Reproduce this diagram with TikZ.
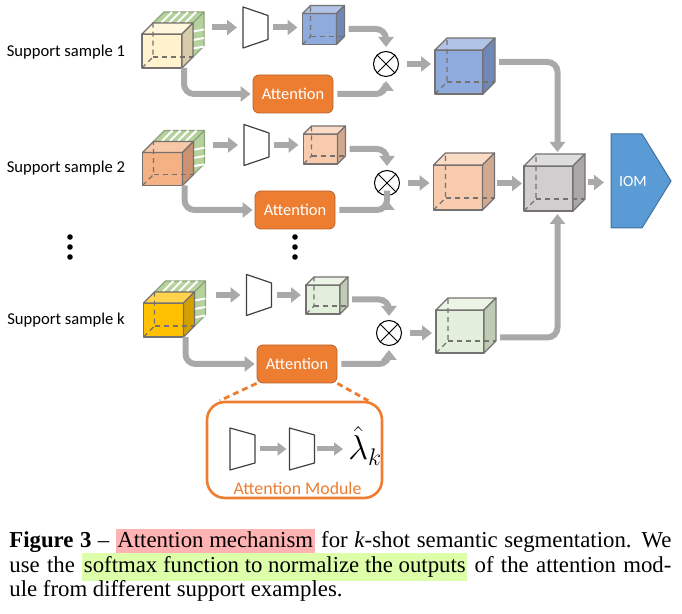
\documentclass[tikz,border=0pt]{standalone}
\usepackage{fontspec}
\setmainfont{Liberation Serif}
\newfontfamily\diagfont{Carlito}
\usepackage{tikz}
\usetikzlibrary{
    arrows.meta,
    calc,
    positioning,
    shapes,
}
\definecolor{flowgray}{HTML}{A9A9A9}
\definecolor{edgegray}{HTML}{767171}
\definecolor{encgray}{HTML}{404040}
\definecolor{attorange}{HTML}{ED7D31}
\definecolor{attborder}{HTML}{B9622A}
\definecolor{iomblue}{HTML}{5B9BD5}
\definecolor{iomborder}{HTML}{41719C}
\definecolor{slicegreen}{HTML}{B5D19C}
\definecolor{sliceedge}{HTML}{8FA57E}
\definecolor{beige}{HTML}{FFF2CC}
\definecolor{beigeside}{HTML}{D8CCA8}
\definecolor{salmon}{HTML}{F4B183}
\definecolor{salmonside}{HTML}{CB9170}
\definecolor{gold}{HTML}{FFC000}
\definecolor{goldside}{HTML}{D3A000}
\definecolor{blueft}{HTML}{8FAADC}
\definecolor{blueside}{HTML}{7088B8}
\definecolor{peach}{HTML}{F8CBAD}
\definecolor{peachside}{HTML}{D0A98F}
\definecolor{mint}{HTML}{E2EFDA}
\definecolor{mintside}{HTML}{BECBB5}
\definecolor{greyft}{HTML}{D0CECE}
\definecolor{greyside}{HTML}{A9A7A7}
\definecolor{hlpink}{HTML}{FFB3B3}
\definecolor{hlgreen}{HTML}{DDFFAA}

\tikzstyle{face}=[draw=edgegray,line width=0.6pt,line join=round]
\tikzstyle{cubefront}=[face,rectangle,inner sep=0pt,outer sep=0pt]
\tikzstyle{hidden}=[draw=edgegray,line width=0.6pt,dash pattern=on 2.5pt off 2pt]
\tikzstyle{flow}=[draw=flowgray,line width=3pt,rounded corners=5pt,-{Triangle[width=7.5pt,length=5pt]}]
\tikzstyle{thinflow}=[draw=flowgray,line width=2.5pt,-{Triangle[width=6.5pt,length=4.5pt]}]
\tikzstyle{encbox}=[rectangle,inner sep=0pt,outer sep=0pt]
\tikzstyle{encline}=[draw=encgray,line width=0.6pt,line join=round,fill=white]
\tikzstyle{att}=[rectangle,rounded corners=3pt,fill=attorange,draw=attborder,line width=0.4pt,
    minimum width=40pt,minimum height=19pt,inner sep=0pt,text=white,font=\diagfont\fontsize{8.2}{10}\selectfont]
\tikzstyle{sample}=[font=\diagfont\fontsize{8.3}{10}\selectfont]
\tikzstyle{otimes}=[circle,draw=black,line width=0.5pt,minimum size=12.5pt,inner sep=0pt,fill=white]
\tikzstyle{module}=[rectangle,rounded corners=9pt,draw=attorange,line width=1.3pt,
    minimum width=87.5pt,minimum height=48pt]
\tikzstyle{modlink}=[draw=attorange,line width=1.4pt,dash pattern=on 3pt off 2pt]

% name, centre, width, height, depth, front, side (sizes in px)
\newcommand{\fcube}[7]{%
  \node[cubefront,fill=#6,minimum width=#3*0.5pt,minimum height=#4*0.5pt] (#1) at #2 {};
  \filldraw[face,fill=#6!70!white] (#1.north west) -- ++(#5,-#5) -- ++(#3,0) -- (#1.north east) -- cycle;
  \filldraw[face,fill=#7] (#1.north east) -- ++(#5,-#5) -- ++(0,#4) -- (#1.south east) -- cycle;
  \draw[hidden] (#1.south west) -- ++(#5,-#5) coordinate (#1-bk) -- ++(0,-#4);
  \draw[hidden] (#1-bk) -- ++(#3,0);
}
% name, centre, width, height, depth
\newcommand{\slices}[5]{%
  \node[cubefront,draw=sliceedge,fill=slicegreen,minimum width=#3*0.5pt,minimum height=#4*0.5pt] (#1) at #2 {};
  \filldraw[face,draw=sliceedge,fill=slicegreen] (#1.north west) -- ++(#5,-#5) -- ++(#3,0) -- (#1.north east) -- cycle;
  \filldraw[face,draw=sliceedge,fill=slicegreen] (#1.north east) -- ++(#5,-#5) -- ++(0,#4) -- (#1.south east) -- cycle;
  \foreach \f in {0.2,0.4,0.6,0.8}
    \draw[white,line width=1pt] ($(#1.north west)!\f!(#1.north east)$) -- ++(#5,-#5);
  \foreach \f in {0.25,0.5,0.75}
    \draw[white,line width=1pt] ($(#1.north east)!\f!(#1.south east)$) -- ++(#5,-2);
}
% name, centre, width, height, inset
\newcommand{\encoder}[5]{%
  \node[encbox,minimum width=#3*0.5pt,minimum height=#4*0.5pt] (#1) at #2 {};
  \draw[encline] (#1.north west) -- (#1.south west) -- ([yshift=#5*0.5pt]#1.south east)
    -- ([yshift=-#5*0.5pt]#1.north east) -- cycle;
}
\newcommand{\crossnode}[2]{%
  \node[otimes] (#1) at #2 {};
  \draw[line width=0.5pt] (#1.north west) -- (#1.south east) (#1.north east) -- (#1.south west);
}
\newcommand{\hlbox}[2]{\smash{\setlength{\fboxsep}{0.8pt}\colorbox{#1}{\strut #2}}}

\begin{document}
\begin{tikzpicture}[x=0.5pt,y=-0.5pt]
\useasboundingbox (0,0) rectangle (682,614);

\node[sample] (s1) at (66,52) {Support sample 1};
\node[sample] (s2) at (66,168) {Support sample 2};
\node[sample] (sk) at (66,320) {Support sample k};
\foreach \y in {237,247,257} {
    \fill (70,\y) circle (1.4pt);
    \fill (295,\y) circle (1.4pt);
}

% support sample 1
\slices{grn1}{(173,40)}{40}{34}{11}
\fcube{in1}{(162,51)}{40}{34}{11}{beige}{beigeside}
\encoder{enc1}{(255.5,27.5)}{25}{41}{8.5}
\fcube{sm1}{(319.5,29)}{34}{31}{8}{blueft}{blueside}
\node[att] (att1) at (293,94) {Attention};
\crossnode{ot1}{(386,64)}
\fcube{big1}{(459,72)}{48}{44}{12}{blueft}{blueside}

% support sample 2
\slices{grn2}{(173.5,158)}{40}{33}{11}
\fcube{in2}{(162.5,169)}{40}{33}{11}{salmon}{salmonside}
\encoder{enc2}{(256.5,145)}{25}{41}{8.5}
\fcube{sm2}{(320.5,149)}{34}{30}{8}{peach}{peachside}
\node[att] (att2) at (295,210) {Attention};
\crossnode{ot2}{(387,183)}
\fcube{big2}{(458,187.5)}{49}{45}{12}{peach}{peachside}

% support sample k
\slices{grnk}{(174.5,309)}{40}{34}{11}
\fcube{ink}{(163.5,320)}{40}{34}{11}{gold}{goldside}
\encoder{enck}{(259,295)}{25}{41}{8.5}
\fcube{smk}{(323,299.5)}{34}{29}{8}{mint}{mintside}
\node[att] (attk) at (297,364) {Attention};
\crossnode{otk}{(389,333)}
\fcube{bigk}{(460,331.5)}{48}{43}{12}{mint}{mintside}

\fcube{gc}{(548.5,188.5)}{49}{45}{12}{greyft}{greyside}
\node[encbox,minimum width=30pt,minimum height=47pt] (iom) at (641,181) {};
\filldraw[fill=iomblue,draw=iomborder,line width=0.5pt] (iom.north west) -- ([xshift=-14.5pt]iom.north east)
    -- (iom.east) -- ([xshift=-14.5pt]iom.south east) -- (iom.south west) -- cycle;
\node[text=white,font=\diagfont\fontsize{7.8}{10}\selectfont] (iomlbl) at ([xshift=-4pt]iom.center) {IOM};

\foreach \r in {1,2,k} {
    \draw[flow] ([xshift=-15.5pt]enc\r.west) -- ([xshift=-3pt]enc\r.west);
    \draw[flow] ([xshift=2.5pt]enc\r.east) -- ([xshift=-2.5pt]enc\r.east -| sm\r.west);
    \draw[flow] ([xshift=6pt]sm\r.east) -| ([yshift=2pt]ot\r.north);
    \draw[flow] ([xshift=1pt]in\r.south east) |- ([xshift=-1pt]att\r.west);
    \draw[flow] ([xshift=2pt]att\r.east) -| ([yshift=-2pt]ot\r.south);
    \draw[flow] ([xshift=4pt]ot\r.east) -- ([xshift=-2pt]ot\r.east -| big\r.west);
}
\draw[flow] ([xshift=8pt,yshift=5pt]big1.east) -| ([xshift=4.5pt,yshift=7pt]gc.north);
\draw[flow] ([xshift=7pt,yshift=2pt]big2.east) -- ([xshift=-1pt,yshift=2pt]big2.east -| gc.west);
\draw[flow] ([xshift=8pt,yshift=-3pt]bigk.east) -| ([xshift=4.5pt,yshift=-1.5pt]gc.south);
\draw[flow] ([xshift=7.5pt,yshift=3pt]gc.east) -- ([xshift=-3.5pt,yshift=3pt]gc.east -| iom.west);

% attention module
\node[module] (mod) at (294.5,450) {};
\draw[modlink] (attk.south west) -- ([xshift=7pt]mod.north west);
\draw[modlink] (attk.south east) -- ([xshift=-7.5pt]mod.north east);
\encoder{mt1}{(242.5,449)}{25}{42}{7}
\encoder{mt2}{(302,449)}{25}{42}{7}
\node[anchor=west,inner sep=0pt,font=\fontsize{16.5}{19}\selectfont] (lam) at (348,446) {$\hat{\lambda}_k$};
\draw[thinflow] ([xshift=2.5pt]mt1.east) -- ([xshift=-1.5pt]mt2.west);
\draw[thinflow] ([xshift=1pt]mt2.east) -- ([xshift=-2.5pt]mt2.east -| lam.west);
\node[text=attorange,font=\diagfont\fontsize{8.9}{10}\selectfont] (modlbl) at (297.5,488) {Attention Module};

\node[anchor=north west,inner sep=0pt,text width=331pt,align=justify,
    font=\fontsize{11.4}{12.3}\selectfont] (cap) at (9,531)
    {\textbf{Figure 3} -- \hlbox{hlpink}{Attention mechanism} for \textit{k}-shot semantic segmentation. We\linebreak
    use the \hlbox{hlgreen}{softmax function to normalize the outputs} of the attention mod-\linebreak
    ule from different support examples.};
\end{tikzpicture}
\end{document}
